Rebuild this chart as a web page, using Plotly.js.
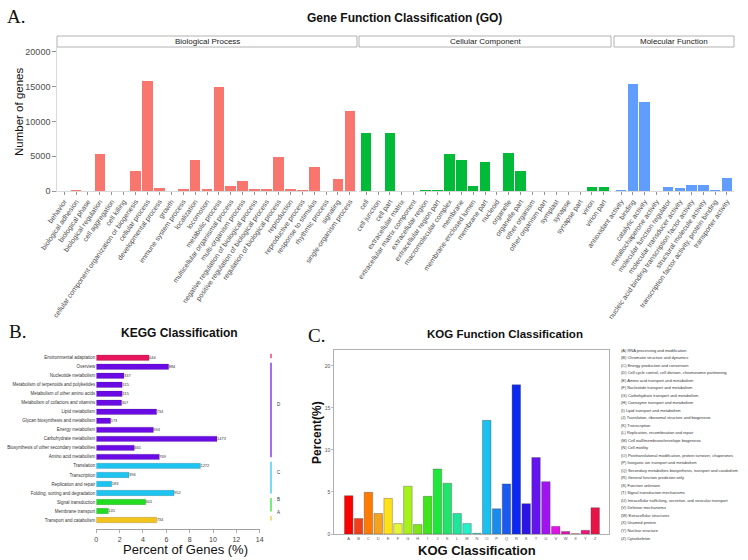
<!DOCTYPE html>
<html><head><meta charset="utf-8">
<script src="https://cdn.plot.ly/plotly-3.0.1.min.js"></script>
<style>html,body{margin:0;padding:0;background:#fff}#chart{width:748px;height:560px}</style>
</head><body><div id="chart"></div>
<script>
// ---------- Panel A: GO ----------
const bpCategories = ["behavior","biological adhesion","biological phase","biological regulation","cell aggregation","cell killing","cellular component organization or biogenesis","cellular process","developmental process","growth","immune system process","localization","locomotion","metabolic process","multicellular organismal process","multi-organism process","negative regulation of biological process","positive regulation of biological process","regulation of biological process","reproduction","reproductive process","response to stimulus","rhythmic process","signaling","single-organism process"];
const bpValues = [20,120,10,5250,5,10,2900,15750,500,30,250,4500,250,14900,650,1400,250,350,4900,250,150,3500,20,1750,11550];
const ccCategories = ["cell","cell junction","cell part","extracellular matrix","extracellular matrix component","extracellular region","extracellular region part","macromolecular complex","membrane","membrane-enclosed lumen","membrane part","nucleoid","organelle","organelle part","other organism","other organism part","symplast","synapse","synapse part","virion","virion part"];
const ccValues = [8300,30,8300,50,10,200,200,5350,4450,670,4100,5,5500,2850,30,30,5,10,10,530,530];
const mfCategories = ["antioxidant activity","binding","catalytic activity","metallochaperone activity","molecular function regulator","molecular transducer activity","nucleic acid binding transcription factor activity","structural molecule activity","transcription factor activity, protein binding","transporter activity"];
const mfValues = [80,15350,12750,5,620,380,880,880,190,1880];
const goTicks = [0,5000,10000,15000,20000];
const goTickLabels = ["0","5000","10000","15000","20000"];

// ---------- Panel B: KEGG ----------
const keggCategories = ["Environmental adaptation","Overview","Nucleotide metabolism","Metabolism of terpenoids and polyketides","Metabolism of other amino acids","Metabolism of cofactors and vitamins","Lipid metabolism","Glycan biosynthesis and metabolism","Energy metabolism","Carbohydrate metabolism","Biosynthesis of other secondary metabolites","Amino acid metabolism","Translation","Transcription","Replication and repair","Folding, sorting and degradation","Signal transduction","Membrane transport","Transport and catabolism"];
const keggPercent = [4.52,6.2,2.37,2.22,2.22,2.17,5.17,1.23,4.89,10.34,3.26,5.4,8.92,2.8,1.32,6.66,4.23,1.03,5.17];
const keggCounts = ["644","884","337","315","315","307","734","173","694","1473","465","769","1272","396","183","952","601","145","734"];
const keggGroupLetters = ["E","D","C","B","A"];
const keggGroupSizes = [1,11,4,2,1];
const keggGroupColors = ["#E8175D","#6A0BE6","#1EC4F0","#22DD22","#F2C31B"];
const keggTicks = [0,2,4,6,8,10,12,14];

// ---------- Panel C: KOG ----------
const kogLetters = ["A","B","C","D","E","F","G","H","I","J","K","L","M","N","O","P","Q","R","S","T","U","V","W","X","Y","Z"];
const kogPercent = [4.56,1.84,4.96,2.44,4.24,1.24,5.68,1.12,4.48,7.72,6.04,2.44,1.24,0.08,13.52,3.0,5.96,17.75,3.61,9.09,6.23,0.91,0.3,0.03,0.44,3.13];
const kogColors = ["#FF0000","#F0401A","#FF7A00","#F5A21F","#FFE11A","#E6F53A","#A6F21A","#7FE61A","#3DE619","#1FE63A","#1FE66B","#1FE69A","#26F0C8","#1FE0E0","#1AC0F0","#1A8CF0","#1A5AF0","#0A28F0","#2A14E6","#6414F0","#A014F0","#E014E6","#E014B4","#E61490","#F01478","#E81446"];
const kogDescriptions = ["(A) RNA processing and modification","(B) Chromatin structure and dynamics","(C) Energy production and conversion","(D) Cell cycle control, cell division, chromosome partitioning","(E) Amino acid transport and metabolism","(F) Nucleotide transport and metabolism","(G) Carbohydrate transport and metabolism","(H) Coenzyme transport and metabolism","(I) Lipid transport and metabolism","(J) Translation, ribosomal structure and biogenesis","(K) Transcription","(L) Replication, recombination and repair","(M) Cell wall/membrane/envelope biogenesis","(N) Cell motility","(O) Posttranslational modification, protein turnover, chaperones","(P) Inorganic ion transport and metabolism","(Q) Secondary metabolites biosynthesis, transport and catabolism","(R) General function prediction only","(S) Function unknown","(T) Signal transduction mechanisms","(U) Intracellular trafficking, secretion, and vesicular transport","(V) Defense mechanisms","(W) Extracellular structures","(X) Unamed protein","(Y) Nuclear structure","(Z) Cytoskeleton"];
const kogTicks = [0,5,10,15,20];

// ---------- helpers ----------
const W = 748, H = 560;
const fx = p => p / W;
const fy = p => 1 - p / H;
const SANS = "Liberation Sans, Arial, sans-serif";
const SERIF = "Liberation Serif, Times New Roman, serif";

const keggBarColors = [];
keggGroupSizes.forEach((n, i) => { for (let k = 0; k < n; k++) keggBarColors.push(keggGroupColors[i]); });

const traces = [
  {type:"bar", x:bpCategories, y:bpValues, xaxis:"x", yaxis:"y", width:0.9, marker:{color:"#F8766D"}, hoverinfo:"x+y"},
  {type:"bar", x:ccCategories, y:ccValues, xaxis:"x2", yaxis:"y", width:0.9, marker:{color:"#00BA38"}, hoverinfo:"x+y"},
  {type:"bar", x:mfCategories, y:mfValues, xaxis:"x3", yaxis:"y", width:0.9, marker:{color:"#619CFF"}, hoverinfo:"x+y"},
  {type:"bar", orientation:"h", y:keggCategories, x:keggPercent, xaxis:"x4", yaxis:"y4", width:0.6,
   marker:{color:keggBarColors, line:{color:"rgba(40,40,40,0.35)", width:0.5}}},
  {type:"scatter", mode:"text", y:keggCategories, x:keggPercent, text:keggCounts, xaxis:"x4", yaxis:"y4",
   textposition:"middle right", textfont:{size:4, color:"#333", family:SANS}, cliponaxis:false, hoverinfo:"skip"},
  {type:"bar", x:kogLetters, y:kogPercent, xaxis:"x5", yaxis:"y5", width:0.86,
   marker:{color:kogColors, line:{color:"rgba(70,70,70,0.45)", width:0.8}}}
];

const goX = (dom, cats) => ({
  domain: dom, anchor:"y", type:"category", range:[-0.6, cats.length - 0.4],
  tickmode:"array", tickvals:cats, ticktext:cats, tickangle:-55,
  tickfont:{size:7, color:"#4D4D4D", family:SANS},
  ticks:"outside", ticklen:3, tickcolor:"#4D4D4D", tickwidth:0.6,
  showline:true, linecolor:"#CFCFCF", linewidth:0.8, showgrid:false, zeroline:false, fixedrange:true
});

const layout = {
  width:W, height:H, margin:{l:0,r:0,t:0,b:0}, showlegend:false,
  paper_bgcolor:"#fff", plot_bgcolor:"rgba(0,0,0,0)",
  font:{family:SANS, color:"#222"}, bargap:0,
  xaxis: goX([fx(57), fx(357)], bpCategories),
  xaxis2: goX([fx(359), fx(611)], ccCategories),
  xaxis3: goX([fx(614), fx(734)], mfCategories),
  yaxis: {domain:[fy(191), fy(47)], anchor:"x", range:[0, 20700], tickmode:"array", tickvals:goTicks, ticktext:goTickLabels,
    tickfont:{size:9, color:"#4D4D4D", family:SANS}, ticks:"outside", ticklen:4, tickcolor:"#4D4D4D", tickwidth:0.6,
    showline:true, linecolor:"#CFCFCF", linewidth:0.8, showgrid:false, zeroline:false},
  xaxis4: {domain:[fx(96.3), fx(259.7)], anchor:"y4", range:[0,14], tickmode:"array", tickvals:keggTicks,
    tickfont:{size:7, color:"#444", family:SANS}, ticks:"outside", ticklen:3, tickcolor:"#777", tickwidth:0.6,
    showline:true, linecolor:"#888", linewidth:0.8, showgrid:false, zeroline:false},
  yaxis4: {domain:[fy(529.3), fy(352.3)], anchor:"x4", type:"category", range:[keggCategories.length + 0.03, -0.6],
    tickmode:"array", tickvals:keggCategories, ticktext:keggCategories,
    tickfont:{size:4.5, color:"#333", family:SANS}, ticks:"", showline:false, showgrid:false, zeroline:false},
  xaxis5: {domain:[fx(334.3), fx(609)], anchor:"y5", type:"category", range:[-1.46, 26.4],
    tickmode:"array", tickvals:kogLetters, ticktext:kogLetters,
    tickfont:{size:4, color:"#555", family:SANS}, ticks:"", showline:true, mirror:true, linecolor:"#B0B0B0", linewidth:1,
    showgrid:false, zeroline:false},
  yaxis5: {domain:[fy(534), fy(349.5)], anchor:"x5", range:[0, 21.95], tickmode:"array", tickvals:kogTicks,
    tickfont:{size:5, color:"#555", family:SANS}, ticks:"outside", ticklen:2, tickcolor:"#888", tickwidth:0.6,
    showline:true, mirror:true, linecolor:"#B0B0B0", linewidth:1, showgrid:false, zeroline:false},
  shapes:[], annotations:[]
};

// facet strips
[["Biological Process",57,357],["Cellular Component",359,611],["Molecular Function",614,734]].forEach(s => {
  layout.shapes.push({type:"rect", xref:"paper", yref:"paper", x0:fx(s[1]), x1:fx(s[2]), y0:fy(47), y1:fy(36),
    line:{color:"#A0A0A0", width:0.8}, fillcolor:"#fff", layer:"below"});
  layout.annotations.push({text:s[0], xref:"paper", yref:"paper", x:fx((s[1]+s[2])/2), y:fy(41.5),
    showarrow:false, xanchor:"center", yanchor:"middle", font:{size:8, color:"#1A1A1A", family:SANS}});
});

// KEGG group brackets
let start = 0;
keggGroupLetters.forEach((g, i) => {
  const end = start + keggGroupSizes[i] - 1;
  const y0 = start - 0.45, y1 = end + 0.05;
  layout.shapes.push({type:"line", xref:"paper", yref:"y4", x0:fx(271), x1:fx(271), y0:y0, y1:y1,
    line:{color:keggGroupColors[i], width:1.2}});
  layout.annotations.push({text:g, xref:"paper", yref:"y4", x:fx(278.5), y:(y0+y1)/2 - 0.6,
    showarrow:false, xanchor:"center", yanchor:"middle", font:{size:4.5, color:"#333", family:SANS}});
  start = end + 1;
});

// KOG description list
kogDescriptions.forEach((d, i) => {
  layout.annotations.push({text:d, xref:"paper", yref:"paper", x:fx(619), y:fy(350 + i*7.52),
    showarrow:false, xanchor:"left", yanchor:"middle", font:{size:4, color:"#333", family:SANS}});
});

// titles and labels
const A = (text, x, y, font, extra) => layout.annotations.push(Object.assign({text:text, xref:"paper", yref:"paper",
  x:fx(x), y:fy(y), showarrow:false, xanchor:"center", yanchor:"middle", font:font}, extra || {}));
A("A.", 16, 16, {size:19, color:"#111", family:SERIF});
A("<b>Gene Function Classification (GO)</b>", 404, 17.5, {size:12, color:"#111", family:SANS});
A("Number of genes", 19, 112, {size:11.5, color:"#111", family:SANS}, {textangle:-90});
A("B.", 17, 331, {size:19, color:"#111", family:SERIF});
A("<b>KEGG Classification</b>", 179, 333, {size:12, color:"#111", family:SANS});
A("Percent of Genes (%)", 185, 549, {size:13, color:"#111", family:SANS});
A("C.", 316, 335, {size:19, color:"#111", family:SERIF});
A("<b>KOG Function Classification</b>", 505, 334, {size:11.5, color:"#111", family:SANS});
A("<b>Percent(%)</b>", 317, 433, {size:12, color:"#111", family:SANS}, {textangle:-90});
A("<b>KOG Classification</b>", 477, 550, {size:13, color:"#111", family:SANS});

Plotly.newPlot("chart", traces, layout, {staticPlot:true, displayModeBar:false});
</script>
</body></html>
